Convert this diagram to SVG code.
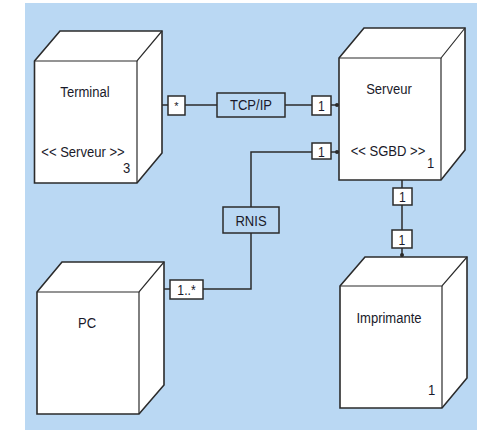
<svg xmlns="http://www.w3.org/2000/svg" width="482" height="430" viewBox="0 0 482 430">
<style>
.bg{fill:#bad8f3}
.face{fill:#fff;stroke:#2b2b2b;stroke-width:1.6;stroke-linejoin:miter}
.edge{fill:none;stroke:#2b2b2b;stroke-width:1.2}
.line{fill:none;stroke:#2b2b2b;stroke-width:1.5}
.mult{fill:#fff;stroke:#2b2b2b;stroke-width:1.5}
.lbl{fill:#bad8f3;stroke:#2b2b2b;stroke-width:1.5}
text{font-family:"Liberation Sans",Arial,sans-serif;font-size:15px;fill:#1a1a2a}
.m{font-size:14px}
.c{text-anchor:middle}
</style>
<rect class="bg" x="25" y="3" width="452" height="427"/>
<g id="connectors">
  <line class="line" x1="162" y1="105" x2="168" y2="105"/>
  <line class="line" x1="185" y1="105" x2="217" y2="105"/>
  <line class="line" x1="285" y1="105" x2="312" y2="105"/>
  <line class="line" x1="331" y1="105" x2="339" y2="105"/>
  <circle cx="337" cy="105" r="2" fill="#2b2b2b"/>
  <polyline class="line" points="312,152 251,152 251,207"/>
  <line class="line" x1="331" y1="152" x2="339" y2="152"/>
  <circle cx="337" cy="152" r="2" fill="#2b2b2b"/>
  <polyline class="line" points="251,233 251,289 203,289"/>
  <line class="line" x1="164" y1="289" x2="170" y2="289"/>
  <line class="line" x1="402" y1="180" x2="402" y2="188"/>
  <line class="line" x1="402" y1="205" x2="402" y2="230"/>
  <line class="line" x1="402" y1="248" x2="402" y2="257"/>
  <circle cx="402" cy="255" r="2" fill="#2b2b2b"/>
  <rect class="mult" x="168" y="96" width="17" height="19"/>
  <text class="c" x="176.5" y="110" style="font-size:11px">*</text>
  <rect class="lbl" x="217" y="93" width="68" height="24"/>
  <text class="c" transform="translate(251,109.5) scale(0.87,1)">TCP/IP</text>
  <rect class="mult" x="312" y="96" width="19" height="19"/>
  <text class="c m" transform="translate(321.5,110.5) scale(0.87,1)">1</text>
  <rect class="mult" x="312" y="143" width="19" height="16"/>
  <text class="c m" transform="translate(321.5,156.5) scale(0.87,1)">1</text>
  <rect class="lbl" x="223" y="207" width="56" height="26"/>
  <text class="c" transform="translate(251,226) scale(0.87,1)">RNIS</text>
  <rect class="mult" x="170" y="280" width="33" height="19"/>
  <text class="c m" transform="translate(186.5,294.5) scale(0.87,1)">1..*</text>
  <rect class="mult" x="393" y="188" width="19" height="17"/>
  <text class="c m" transform="translate(402.5,201.5) scale(0.87,1)">1</text>
  <rect class="mult" x="392" y="230" width="20" height="18"/>
  <text class="c m" transform="translate(402,244.5) scale(0.87,1)">1</text>
</g>
<g id="terminal">
  <polygon class="face" points="34.5,61 60,31 162,31 162,153 137,183 34.5,183"/>
  <polyline class="edge" points="34.5,61 137,61 162,31"/>
  <line class="edge" x1="137" y1="61" x2="137" y2="183"/>
  <text class="c" transform="translate(85,96.7) scale(0.87,1)">Terminal</text>
  <text class="c" transform="translate(83,156.7) scale(0.87,1)">&lt;&lt; Serveur &gt;&gt;</text>
  <text transform="translate(123,172.5) scale(0.87,1)">3</text>
</g>
<g id="serveur">
  <polygon class="face" points="339,58 364,28 465,28 465,150 441,180 339,180"/>
  <polyline class="edge" points="339,58 441,58 465,28"/>
  <line class="edge" x1="441" y1="58" x2="441" y2="180"/>
  <text class="c" transform="translate(389,94) scale(0.87,1)">Serveur</text>
  <text class="c" transform="translate(388,155.7) scale(0.87,1)">&lt;&lt; SGBD &gt;&gt;</text>
  <text transform="translate(427,167.5) scale(0.87,1)">1</text>
</g>
<g id="pc">
  <polygon class="face" points="37,292 62,262 164,262 164,385 139,414 37,414"/>
  <polyline class="edge" points="37,292 139,292 164,262"/>
  <line class="edge" x1="139" y1="292" x2="139" y2="414"/>
  <text class="c" transform="translate(87,328.3) scale(0.87,1)">PC</text>
</g>
<g id="imprimante">
  <polygon class="face" points="340,286 365,257 467,257 467,378 442,408 340,408"/>
  <polyline class="edge" points="340,286 442,286 467,257"/>
  <line class="edge" x1="442" y1="286" x2="442" y2="408"/>
  <text class="c" transform="translate(389,323.3) scale(0.87,1)">Imprimante</text>
  <text transform="translate(428,395) scale(0.87,1)">1</text>
</g>
</svg>
